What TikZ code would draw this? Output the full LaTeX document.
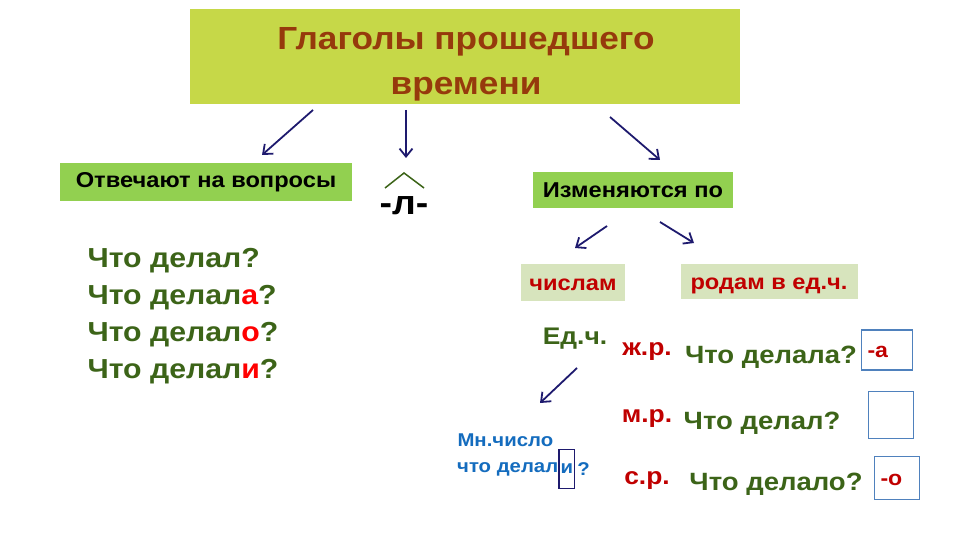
\documentclass[tikz,border=0pt]{standalone}
\usepackage{fontspec}
\setmainfont[FakeStretch=1.1]{Liberation Sans}
\usetikzlibrary{arrows.meta}
\definecolor{titlebg}{RGB}{198,216,72}
\definecolor{titlefg}{RGB}{150,58,12}
\definecolor{greenbg}{RGB}{146,208,80}
\definecolor{palebg}{RGB}{215,228,189}
\definecolor{arrowc}{RGB}{30,26,110}
\definecolor{verbc}{RGB}{60,100,24}
\definecolor{genc}{RGB}{192,0,0}
\definecolor{endc}{RGB}{255,0,0}
\definecolor{pluc}{RGB}{20,108,190}
\definecolor{framec}{RGB}{79,129,189}
\begin{document}
\begin{tikzpicture}
      [x=1pt,y=-1pt,font=\bfseries,
      arr/.style={draw=arrowc,line width=1.8pt,-{Straight Barb[length=8pt,width=13pt]}},
      greenbox/.style={fill=greenbg,minimum height=37pt,font=\bfseries\fontsize{21.5}{25}\selectfont},
      palebox/.style={fill=palebg,minimum height=37pt,text height=16pt,text depth=0pt,text=genc,font=\bfseries\fontsize{21.5}{25}\selectfont},
      verb/.style={text=verbc,anchor=west,font=\bfseries\fontsize{27.5}{32}\selectfont},
      gender/.style={text=genc,font=\bfseries\fontsize{24}{28}\selectfont},
      question/.style={text=verbc,font=\bfseries\fontsize{25}{29}\selectfont},
      plural/.style={text=pluc,anchor=west,font=\bfseries\fontsize{18.5}{22}\selectfont},
      endbox/.style={draw=framec,line width=1.2pt,inner xsep=6pt,align=left,text height=15pt,text depth=0pt,text=genc,font=\bfseries\fontsize{21}{24}\selectfont}]
      \useasboundingbox (0,0) rectangle (960,540);
      \node[fill=titlebg,minimum width=550pt,minimum height=95pt] (title) at (465,57) {};
      \node[text=titlefg,font=\bfseries\fontsize{32}{45}\selectfont,align=center] (titletext) at (466,64) {Глаголы прошедшего\\времени};
      \node[greenbox,minimum width=292pt] (answer) at (206,182) {Отвечают на вопросы};
      \node[font=\bfseries\fontsize{34}{38}\selectfont] (suffix) at (404,206) {-л-};
      \coordinate (capl) at (385,188);
      \coordinate (capt) at (404,173);
      \coordinate (capr) at (424,188);
      \draw[verbc,line width=1.5pt] (capl) -- (capt) -- (capr);
      \node[greenbox,minimum width=200pt,minimum height=36pt] (change) at (633,190) {Изменяются по};
      \node[palebox,minimum width=104pt] (number) at (573,282) {числам};
      \node[palebox,minimum width=177pt,minimum height=35pt] (gend) at (769,281) {родам в ед.ч.};
      \node[verb] (q1) at (84,261) {Что делал?};
      \node[verb] (q2) at (84,298) {Что делал\textcolor{endc}{а}?};
      \node[verb] (q3) at (84,335) {Что делал\textcolor{endc}{о}?};
      \node[verb] (q4) at (84,372) {Что делал\textcolor{endc}{и}?};
      \node[text=verbc,font=\bfseries\fontsize{24}{28}\selectfont] (sing) at (575,339) {Ед.ч.};
      \node[gender] (fem) at (647,352) {ж.р.};
      \node[question] (qfem) at (771,357) {Что делала?};
      \node[endbox,minimum height=40pt,text width=39pt] (efem) at (887,350) {-а};
      \node[gender] (masc) at (647,419) {м.р.};
      \node[question] (qmasc) at (762,423) {Что делал?};
      \node[endbox,minimum height=47pt,text width=33pt] (emasc) at (891,415) {};
      \node[gender] (neut) at (647,481) {с.р.};
      \node[question] (qneut) at (776,484) {Что делало?};
      \node[endbox,minimum height=43pt,text width=33pt] (eneut) at (897,478) {-о};
      \node[plural] (plnum) at (454,440) {Мн.число};
      \node[plural,inner xsep=0pt] (plq) at (457,469) {что делал};
      \node[plural,draw=arrowc,line width=1.2pt,inner xsep=1.5pt,minimum height=39pt] (plend) at (plq.east) {и};
      \node[plural,inner xsep=2pt] (plmark) at (plend.east) {?};
      \coordinate (a1) at (313,110);
      \coordinate (a2) at (406,110);
      \coordinate (a3) at (610,117);
      \draw[arr] (a1) -- (262,155);
      \draw[arr] (a2) -- (406,158);
      \draw[arr] (a3) -- (660,160);
      \draw[arr] (607,226) -- (575,248);
      \draw[arr] (660,222) -- (694,243);
      \draw[arr] (577,368) -- (540,403);
\end{tikzpicture}
\end{document}
